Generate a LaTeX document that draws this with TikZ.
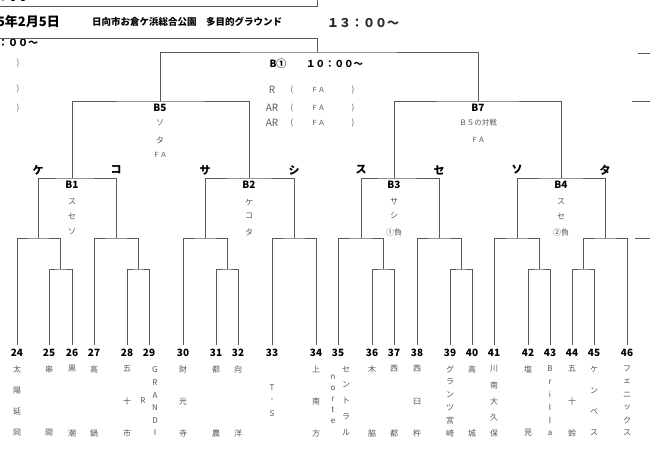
\documentclass[tikz,border=0pt]{standalone}
\usepackage{fontspec}
\setmainfont{Noto Sans CJK JP}
\usetikzlibrary{positioning}
\definecolor{wiregray}{HTML}{5A5A5A}
\definecolor{namegray}{HTML}{555555}
\tikzset{
  wire/.style={draw=wiregray, line width=0.8pt},
  seed/.style={font=\bfseries\fontsize{10}{10}\selectfont, inner sep=0pt},
  team/.style={text=namegray, font=\fontsize{8}{8}\selectfont, inner sep=0pt},
  side/.style={font=\bfseries\fontsize{11}{11}\selectfont, inner sep=0pt},
  game/.style={font=\bfseries\fontsize{10}{10}\selectfont, inner sep=0pt},
  note/.style={text=namegray, font=\fontsize{8}{8}\selectfont, inner sep=0pt},
  crew/.style={text=wiregray, font=\fontsize{10}{10}\selectfont, inner sep=0pt},
}
% vertical team name: node prefix, x, first y, step, letters
\newcommand\vname[5]{%
  \foreach \c [count=\i from 0] in {#5}
    \node[team] (#1-\i) at (#2,{#3+\i*#4}) {\c};
}

\begin{document}
\begin{tikzpicture}[x=1pt,y=-1pt]
    \useasboundingbox (0,0) rectangle (650,471);

    % heading
    \node[font=\bfseries\fontsize{13}{13}\selectfont, anchor=east, inner sep=0pt] (date) at (60,22) {5年2月5日};
    \node[font=\bfseries\fontsize{9.5}{9.5}\selectfont, anchor=west, inner sep=0pt] (place) at (92,22) {日向市お倉ケ浜総合公園　多目的グラウンド};
    \node[font=\bfseries\fontsize{12}{12}\selectfont, text=black!85, anchor=west, inner sep=0pt] (time) at (327,23) {１３：００～};
    \node[font=\bfseries\fontsize{10}{10}\selectfont, anchor=west, inner sep=0pt] (oldtime) at (-2,-2) {：００～};
    \node[font=\bfseries\fontsize{10}{10}\selectfont, anchor=west, inner sep=0pt] (lefttime) at (-2,43) {：００～};
    \foreach \y [count=\k] in {63,89,108}
        \node[note] (lp\k) at (18,\y) {)};

    \coordinate (box0) at (0,6);
    \coordinate (box1) at (317,-2);
    \coordinate (hdr) at (0,38);
    \draw[wire] (box0) -| (box1);

    % right margin rules
    \foreach \y/\xa [count=\k] in {53/638,101/632,238/635}{
        \coordinate (ra\k) at (\xa,\y);
        \coordinate (rb\k) at (650,\y);
        \draw[wire] (ra\k) -- (rb\k);
    }

    % leaves
    \foreach \x/\n in {17/24,49/25,72/26,94/27,127/28,149/29,183/30,216/31,238/32,272/33,316/34,
                       338/35,372/36,394/37,417/38,450/39,472/40,494/41,528/42,550/43,572/44,594/45,627/46}{
        \node[seed] (n\n) at (\x,353) {\n};
        \coordinate (l\n) at (\x,345);
    }

    % junctions
    \coordinate (j25) at (60,269);
    \coordinate (ke)  at (38,238);
    \coordinate (j28) at (138,269);
    \coordinate (ko)  at (116,238);
    \coordinate (b1)  at (72,178);
    \coordinate (j31) at (227,269);
    \coordinate (sa)  at (205,238);
    \coordinate (shi) at (294,238);
    \coordinate (b2)  at (249,178);
    \coordinate (j36) at (383,269);
    \coordinate (su)  at (361,238);
    \coordinate (j39) at (461,269);
    \coordinate (se)  at (439,238);
    \coordinate (b3)  at (394,178);
    \coordinate (j42) at (539,269);
    \coordinate (so)  at (517,238);
    \coordinate (j44) at (583,269);
    \coordinate (ta)  at (605,238);
    \coordinate (b4)  at (561,178);
    \coordinate (b5)  at (160,101);
    \coordinate (b7)  at (478,101);
    \coordinate (bf)  at (317,52);

    \draw[wire] (l25) |- (j25) -| (l26);
    \draw[wire] (l24) |- (ke) -| (j25);
    \draw[wire] (l28) |- (j28) -| (l29);
    \draw[wire] (l27) |- (ko) -| (j28);
    \draw[wire] (ke) |- (b1) -| (ko);
    \draw[wire] (l31) |- (j31) -| (l32);
    \draw[wire] (l30) |- (sa) -| (j31);
    \draw[wire] (l33) |- (shi) -| (l34);
    \draw[wire] (sa) |- (b2) -| (shi);
    \draw[wire] (l36) |- (j36) -| (l37);
    \draw[wire] (l35) |- (su) -| (j36);
    \draw[wire] (l39) |- (j39) -| (l40);
    \draw[wire] (l38) |- (se) -| (j39);
    \draw[wire] (su) |- (b3) -| (se);
    \draw[wire] (l42) |- (j42) -| (l43);
    \draw[wire] (l41) |- (so) -| (j42);
    \draw[wire] (l44) |- (j44) -| (l45);
    \draw[wire] (j44) |- (ta) -| (l46);
    \draw[wire] (so) |- (b4) -| (ta);
    \draw[wire] (b1) |- (b5) -| (b2);
    \draw[wire] (b3) |- (b7) -| (b4);
    \draw[wire] (b5) |- (bf) -| (b7);
    \draw[wire] (bf) |- (hdr);

    % sides
    \foreach \x/\s/\t in {38/ke/ケ,116/ko/コ,205/sa/サ,294/shi/シ,361/su/ス,439/se/セ,517/so/ソ,605/ta/タ}
        \node[side] (s-\s) at (\x,170) {\t};

    % games
    \foreach \x/\g/\a/\b/\c in {72/1/ス/セ/ソ,249/2/ケ/コ/タ,394/3/サ/シ/①負,561/4/ス/セ/②負}{
        \node[game] (g\g) at (\x,185) {B\g};
        \node[note] (g\g a) at (\x,202) {\a};
        \node[note] (g\g b) at (\x,216) {\b};
        \node[note] (g\g c) at (\x,232) {\c};
    }
    \node[game] (g5) at (160,108) {B5};
    \node[note] (g5a) at (160,123) {ソ};
    \node[note] (g5b) at (160,140) {タ};
    \node[note, font=\fontsize{7}{7}\selectfont] (g5c) at (160,155) {ＦＡ};
    \node[game] (g7) at (478,108) {B7};
    \node[note, font=\fontsize{7.5}{7.5}\selectfont] (g7a) at (478,123) {Ｂ５の対戦};
    \node[note, font=\fontsize{7}{7}\selectfont] (g7b) at (478,140) {ＦＡ};

    % final and referees
    \node[game] (gf) at (278,64) {B①};
    \node[font=\bfseries\fontsize{9.5}{9.5}\selectfont, anchor=west, inner sep=0pt] (gft) at (306,64) {１０：００～};
    \foreach \y/\r [count=\k] in {90/R,108/AR,123/AR}{
        \node[crew] (ref\k) at (272,\y) {\r};
        \node[note] (refo\k) at (292,\y) {(};
        \node[note, font=\fontsize{7}{7}\selectfont] (reff\k) at (318,\y) {ＦＡ};
        \node[note] (refc\k) at (353,\y) {)};
    }

    % team names
    \vname{t24}{17}{369}{21.33}{太,陽,延,岡}
    \vname{t25}{49}{369}{64}{串,間}
    \vname{t26}{72}{369}{64}{黒,潮}
    \vname{t27}{94}{369}{64}{高,鍋}
    \vname{t28}{127}{369}{32}{五,十,市}
    \node[team] (t29r) at (143,401) {R};
    \vname{t29}{155}{370}{12.6}{G,R,A,N,D,I}
    \vname{t30}{183}{369}{32}{財,光,寺}
    \vname{t31}{216}{369}{64}{都,農}
    \vname{t32}{238}{369}{64}{向,洋}
    \vname{t33}{272}{388}{13}{T,',S}
    \vname{t34}{316}{369}{32}{上,南,方}
    \vname{t35n}{333}{377}{11}{n,o,r,t,e}
    \vname{t35}{346}{369}{16}{セ,ン,ト,ラ,ル}
    \vname{t36}{372}{369}{64}{木,脇}
    \vname{t37}{394}{369}{64}{西,都}
    \vname{t38}{417}{369}{32}{西,臼,杵}
    \vname{t39}{450}{369}{12.8}{グ,ラ,ン,ツ,宮,崎}
    \vname{t40}{472}{369}{64}{高,城}
    \vname{t41}{494}{369}{16}{川,南,大,久,保}
    \vname{t42}{528}{369}{64}{塩,見}
    \vname{t43}{550}{369}{12.8}{B,r,i,l,l,a}
    \vname{t44}{572}{369}{32}{五,十,鈴}
    \vname{t45}{594}{369}{21.33}{ケ,ン,ベ,ス}
    \vname{t46}{627}{369}{12.8}{フ,ェ,ニ,ッ,ク,ス}
\end{tikzpicture}
\end{document}
